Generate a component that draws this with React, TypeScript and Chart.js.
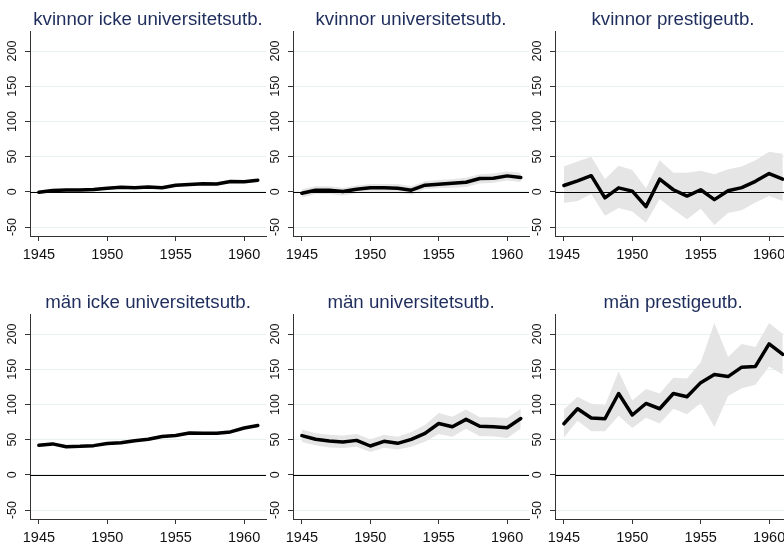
import React, { useEffect, useRef } from 'react';
import { Chart, registerables } from 'chart.js';

Chart.register(...registerables);

// ---------- data ----------
const years = [1945, 1946, 1947, 1948, 1949, 1950, 1951, 1952, 1953, 1954, 1955, 1956, 1957, 1958, 1959, 1960, 1961];
const xTicks = [1945, 1950, 1955, 1960];
const yTicks = [-50, 0, 50, 100, 150, 200];

const titles = [
  'kvinnor icke universitetsutb.',
  'kvinnor universitetsutb.',
  'kvinnor prestigeutb.',
  'män icke universitetsutb.',
  'män universitetsutb.',
  'män prestigeutb.',
];

const kvIckeMean = [-0.5, 2, 2.5, 2.8, 3.3, 5.2, 6.4, 5.7, 7, 5.9, 9.5, 10.4, 11.6, 11.2, 14.7, 14.2, 16.4];
const kvIckeUpper = [1, 3.5, 4, 4.3, 4.8, 6.7, 7.9, 7.2, 8.5, 7.4, 11, 12, 13.2, 12.8, 16.3, 15.8, 18];
const kvIckeLower = [-2, 0.5, 1, 1.3, 1.8, 3.7, 4.9, 4.2, 5.5, 4.4, 8, 8.8, 10, 9.6, 13.1, 12.6, 14.8];

const kvUniMean = [-2, 2.4, 2.4, 0.5, 3.8, 5.7, 5.7, 5.2, 2.4, 9.5, 10.9, 12.3, 13.7, 19, 19.4, 22.7, 20.4];
const kvUniUpper = [4, 8, 8, 6, 9, 11, 11, 11, 8, 15, 17, 18, 20, 25, 26, 29, 27];
const kvUniLower = [-8, -3, -3, -5, -2, 0, 0, -1, -4, 4, 5, 6, 7, 12, 13, 16, 14];

const kvPrestMean = [9, 15.6, 23, -8.5, 5.7, 1, -21, 18, 3, -6, 3, -11, 1.5, 6, 15, 26, 18];
const kvPrestUpper = [36, 43, 50, 18, 37, 31, 5, 45, 27, 27, 30, 25, 32, 36, 45, 57, 54];
const kvPrestLower = [-16, -13, -3, -34, -23, -28, -44, -10, -25, -39, -24, -47, -30, -26, -15, -6, -13];

const manIckeMean = [42, 44, 40, 40.5, 41.5, 44.5, 45.5, 48.5, 50.5, 54.5, 56, 59.5, 59, 59, 61, 66.5, 70];
const manIckeUpper = [43.5, 45.5, 41.5, 42, 43, 46, 47, 50, 52, 56, 57.5, 61, 60.5, 60.5, 62.5, 68, 71.5];
const manIckeLower = [40.5, 42.5, 38.5, 39, 40, 43, 44, 47, 49, 53, 54.5, 58, 57.5, 57.5, 59.5, 65, 68.5];

const manUniMean = [55.7, 50.5, 48, 46.7, 49, 41, 47.6, 44.8, 50.5, 59, 73, 68.4, 78.8, 69, 68.4, 67, 80];
const manUniUpper = [64.6, 59, 57, 56, 58, 50.5, 57, 54, 61, 71, 88, 82.5, 93, 82, 82, 80.7, 94];
const manUniLower = [46.7, 42, 39, 38, 40, 32.5, 38.5, 36, 40, 47, 58, 54, 65.6, 55, 55, 52, 66];

const manPrestMean = [72.6, 93.9, 80.7, 79.7, 115.6, 85, 101.4, 93.9, 115.6, 111, 131, 142.5, 139.6, 153, 154, 186, 171];
const manPrestUpper = [93, 111, 101, 98.6, 146.7, 105.7, 122, 115.6, 138, 137, 160, 215.6, 167.5, 186, 181.6, 215.6, 200];
const manPrestLower = [53, 77, 62, 62, 84, 66.5, 81, 73, 94, 86, 102, 68, 112, 123, 128, 154, 142.5];

const means = [kvIckeMean, kvUniMean, kvPrestMean, manIckeMean, manUniMean, manPrestMean];
const uppers = [kvIckeUpper, kvUniUpper, kvPrestUpper, manIckeUpper, manUniUpper, manPrestUpper];
const lowers = [kvIckeLower, kvUniLower, kvPrestLower, manIckeLower, manUniLower, manPrestLower];

// ---------- styling ----------
const FONT = '"Liberation Sans", Arial, Helvetica, sans-serif';
const TITLE_COLOR = 'rgb(30,45,92)';
const AXIS_COLOR = '#333333';
const GRID_COLOR = 'rgb(232,240,241)';
const BAND_COLOR = 'rgb(229,229,229)';

const CANVAS_W = 270;
const CANVAS_H = 270;
const COL_LEFT = [0, 263, 525];
const ROW_TOP = [0, 283];

const toPts = (vals: number[]) => years.map((yr, i) => ({ x: yr, y: vals[i] }));

const titlePlugin = {
  id: 'panelTitle',
  afterDraw(chart: any, _args: any, opts: any) {
    const { ctx, chartArea } = chart;
    ctx.save();
    ctx.font = `18.7px ${FONT}`;
    ctx.fillStyle = TITLE_COLOR;
    ctx.textAlign = 'center';
    ctx.textBaseline = 'alphabetic';
    ctx.fillText(opts.text, (chartArea.left + chartArea.right) / 2, chartArea.top - 6);
    ctx.restore();
  },
};

const zeroLinePlugin = {
  id: 'zeroLine',
  afterDatasetsDraw(chart: any) {
    const { ctx, chartArea, scales } = chart;
    const y = Math.round(scales.y.getPixelForValue(0)) + 0.5;
    ctx.save();
    ctx.strokeStyle = '#000';
    ctx.lineWidth = 1;
    ctx.beginPath();
    ctx.moveTo(chartArea.left, y);
    ctx.lineTo(chartArea.right, y);
    ctx.stroke();
    ctx.restore();
  },
};

function Panel({ idx }: { idx: number }) {
  const ref = useRef<HTMLCanvasElement>(null);
  useEffect(() => {
    if (!ref.current) return;
    const chart = new Chart(ref.current, {
      type: 'line',
      data: {
        datasets: [
          {
            data: toPts(means[idx]),
            borderColor: '#000',
            borderWidth: 3.5,
            pointRadius: 0,
            fill: false,
            tension: 0,
            borderJoinStyle: 'round',
            borderCapStyle: 'round',
          },
          {
            data: toPts(lowers[idx]),
            borderWidth: 0,
            borderColor: 'rgba(0,0,0,0)',
            pointRadius: 0,
            fill: false,
          },
          {
            data: toPts(uppers[idx]),
            borderWidth: 0,
            borderColor: 'rgba(0,0,0,0)',
            backgroundColor: BAND_COLOR,
            pointRadius: 0,
            fill: '-1',
          },
        ],
      } as any,
      options: {
        responsive: false,
        animation: false,
        events: [],
        layout: { padding: { top: 31, right: 4, left: 0, bottom: 0 } },
        plugins: {
          legend: { display: false },
          tooltip: { enabled: false },
          panelTitle: { text: titles[idx] },
        } as any,
        scales: {
          x: {
            type: 'linear',
            min: 1944.35,
            max: 1961.6,
            afterBuildTicks: (ax: any) => {
              ax.ticks = xTicks.map((v) => ({ value: v }));
            },
            afterFit: (ax: any) => {
              ax.height = 34;
            },
            grid: {
              drawOnChartArea: false,
              drawTicks: true,
              tickLength: 5,
              tickColor: AXIS_COLOR,
              tickWidth: 1,
            },
            border: { display: true, color: AXIS_COLOR, width: 1 },
            ticks: {
              font: { family: FONT, size: 14.5 },
              color: '#111',
              padding: 5.5,
              maxRotation: 0,
              minRotation: 0,
              callback: (v: any) => String(v),
            },
          },
          y: {
            type: 'linear',
            min: -62.7,
            max: 228.5,
            afterBuildTicks: (ax: any) => {
              ax.ticks = yTicks.map((v) => ({ value: v }));
            },
            afterFit: (ax: any) => {
              ax.width = 30;
            },
            grid: {
              color: GRID_COLOR,
              lineWidth: 1,
              drawTicks: true,
              tickLength: 5,
              tickColor: AXIS_COLOR,
              tickWidth: 1,
            },
            border: { display: true, color: AXIS_COLOR, width: 1 },
            ticks: {
              font: { family: FONT, size: 12.5 },
              color: '#111',
              padding: 2,
              minRotation: 90,
              maxRotation: 90,
              crossAlign: 'center',
              callback: (v: any) => String(v),
            },
          },
        },
      } as any,
      plugins: [titlePlugin, zeroLinePlugin],
    });
    return () => chart.destroy();
  }, [idx]);

  const col = idx % 3;
  const row = Math.floor(idx / 3);
  return (
    <canvas
      ref={ref}
      width={CANVAS_W}
      height={CANVAS_H}
      style={{
        position: 'absolute',
        left: COL_LEFT[col],
        top: ROW_TOP[row],
        width: CANVAS_W,
        height: CANVAS_H,
      }}
    />
  );
}

export default function App() {
  return (
    <div
      style={{
        position: 'fixed',
        left: 0,
        top: 0,
        width: 784,
        height: 543,
        overflow: 'hidden',
        background: '#fff',
      }}
    >
      {titles.map((_, i) => (
        <Panel key={i} idx={i} />
      ))}
    </div>
  );
}
